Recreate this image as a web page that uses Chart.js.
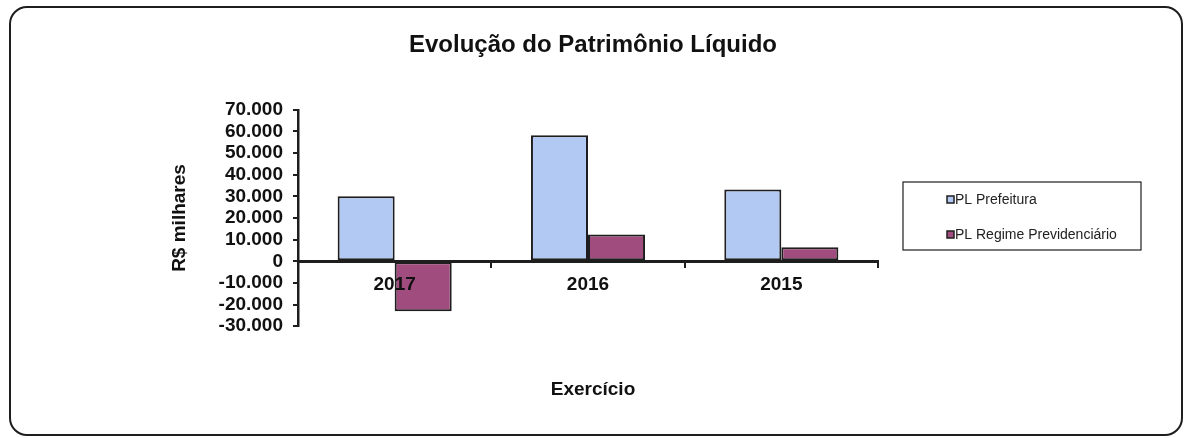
<!DOCTYPE html>
<html>
<head>
<meta charset="utf-8">
<script src="https://cdn.jsdelivr.net/npm/chart.js@4"></script>
<style>
  html, body { margin: 0; padding: 0; background: #fff; }
  #wrap { position: relative; width: 1186px; height: 438px; }
  #frame {
    position: absolute; left: 9px; top: 6px; width: 1170px; height: 426px;
    border: 2.5px solid #1e1e1e; border-radius: 18px; pointer-events: none;
  }
</style>
</head>
<body>
<div id="wrap">
  <canvas id="plChart" width="1186" height="438"></canvas>
  <div id="frame"></div>
</div>
<script>
// Evolução do Patrimônio Líquido
const categories = ['2017', '2016', '2015'];
const plPrefeitura = [30000, 58200, 33200];
const plRegimePrev = [-23100, 12400, 6500];
const seriesNames = ['PL Prefeitura', 'PL Regime Previdenciário'];
const yTickLabels = ['-30.000', '-20.000', '-10.000', '0', '10.000', '20.000', '30.000', '40.000', '50.000', '60.000', '70.000'];

const FONT = "'Liberation Sans', Arial, sans-serif";
const INK = '#1e1e1e';

// legend in a box, drawn to the right of the plot
const boxLegend = {
  id: 'boxLegend',
  afterDraw(chart) {
    const ctx = chart.ctx;
    const x = chart.chartArea.right + 25, y = 182, w = 238, h = 68;
    ctx.save();
    ctx.strokeStyle = INK;
    ctx.lineWidth = 1.2;
    ctx.strokeRect(x, y, w, h);
    ctx.font = '14px ' + FONT;
    ctx.textBaseline = 'middle';
    chart.data.datasets.forEach((ds, i) => {
      const cy = y + 18 + i * 35;
      ctx.fillStyle = ds.backgroundColor;
      ctx.fillRect(x + 44, cy - 4, 7, 7);
      ctx.strokeStyle = INK;
      ctx.lineWidth = 1.5;
      ctx.strokeRect(x + 44, cy - 4, 7, 7);
      ctx.fillStyle = '#222';
      ctx.fillText(ds.label, x + 52, cy);
    });
    ctx.restore();
  }
};

let ctx = document.getElementById('plChart').getContext('2d');
let plChart = new Chart(ctx, {
  type: 'bar',
  data: {
    labels: categories,
    datasets: [{
      label: seriesNames[0],
      data: plPrefeitura,
      backgroundColor: '#b2c9f3',
      borderColor: INK,
      borderWidth: 2,
      borderSkipped: false
    }, {
      label: seriesNames[1],
      data: plRegimePrev,
      backgroundColor: '#a04c7e',
      borderColor: INK,
      borderWidth: 2,
      borderSkipped: false
    }]
  },
  options: {
    responsive: false,
    animation: false,
    layout: { padding: 0 },
    categoryPercentage: 0.59,
    barPercentage: 1,
    plugins: {
      legend: { display: false },
      tooltip: { enabled: false },
      title: {
        display: true,
        text: 'Evolução do Patrimônio Líquido',
        color: '#111',
        font: { family: FONT, size: 24, weight: 'bold' },
        padding: { top: 31, bottom: 50 }
      },
      subtitle: {
        display: true,
        position: 'bottom',
        text: 'Exercício',
        color: '#111',
        font: { family: FONT, size: 19, weight: 'bold' },
        padding: { top: 52, bottom: 37 }
      }
    },
    scales: {
      x: {
        position: { y: 0 },
        grid: { drawOnChartArea: false, drawTicks: true, tickLength: 5, color: INK, lineWidth: 2 },
        border: { display: true, color: INK, width: 3, z: 1 },
        ticks: { z: 1, color: '#111', padding: 7, font: { family: FONT, size: 19, weight: 'bold' } }
      },
      y: {
        min: -30000,
        max: 70000,
        afterFit(scale) { scale.width = 298; },
        grid: { drawOnChartArea: false, drawTicks: true, tickLength: 5, color: INK, lineWidth: 2 },
        border: { display: true, color: INK, width: 2.5 },
        ticks: {
          stepSize: 10000,
          autoSkip: false,
          color: '#111',
          padding: 10,
          font: { family: FONT, size: 19, weight: 'bold', lineHeight: 1 },
          callback: (v, i) => yTickLabels[i]
        },
        title: {
          display: true,
          text: 'R$ milhares',
          color: '#111',
          padding: { top: 168, bottom: 0 },
          font: { family: FONT, size: 19, weight: 'bold' }
        }
      },
      // empty right-hand axis that only reserves room for the legend box
      yLegendRoom: {
        type: 'linear',
        position: 'right',
        afterFit(scale) { scale.width = 308; },
        grid: { display: false },
        border: { display: false },
        ticks: { display: false }
      }
    }
  },
  plugins: [boxLegend]
});
</script>
</body>
</html>
